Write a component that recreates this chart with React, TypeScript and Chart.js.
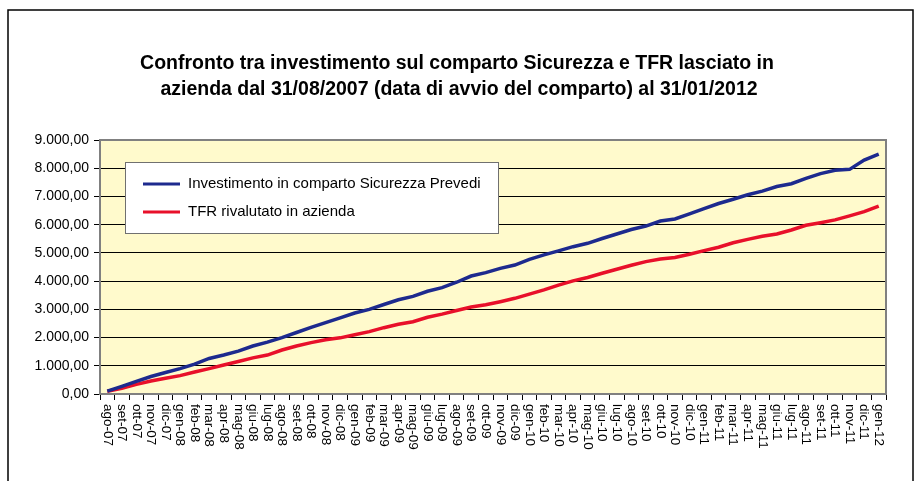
import React, { useEffect, useRef } from 'react';
import { Chart, registerables } from 'chart.js';

Chart.register(...registerables);

const categories = [
  'ago-07', 'set-07', 'ott-07', 'nov-07', 'dic-07',
  'gen-08', 'feb-08', 'mar-08', 'apr-08', 'mag-08', 'giu-08', 'lug-08', 'ago-08', 'set-08', 'ott-08', 'nov-08', 'dic-08',
  'gen-09', 'feb-09', 'mar-09', 'apr-09', 'mag-09', 'giu-09', 'lug-09', 'ago-09', 'set-09', 'ott-09', 'nov-09', 'dic-09',
  'gen-10', 'feb-10', 'mar-10', 'apr-10', 'mag-10', 'giu-10', 'lug-10', 'ago-10', 'set-10', 'ott-10', 'nov-10', 'dic-10',
  'gen-11', 'feb-11', 'mar-11', 'apr-11', 'mag-11', 'giu-11', 'lug-11', 'ago-11', 'set-11', 'ott-11', 'nov-11', 'dic-11',
  'gen-12',
];

const investimentoSicurezza = [
  100, 270, 450, 620, 760, 900, 1060, 1260, 1380, 1520,
  1700, 1840, 2000, 2180, 2360, 2530, 2700, 2870, 3000, 3170,
  3340, 3460, 3640, 3770, 3960, 4180, 4300, 4450, 4570, 4770,
  4930, 5070, 5220, 5340, 5510, 5670, 5830, 5950, 6130, 6200,
  6380, 6570, 6750, 6900, 7060, 7190, 7350, 7450, 7640, 7810,
  7930, 7960, 8290, 8500,
];

const tfrAzienda = [
  100, 200, 340, 460, 560, 650, 780, 900, 1030, 1150,
  1280, 1380, 1560, 1700, 1820, 1920, 1990, 2100, 2210, 2350,
  2470, 2560, 2720, 2830, 2960, 3080, 3160, 3270, 3390, 3540,
  3690, 3860, 4010, 4130, 4280, 4420, 4560, 4690, 4780, 4840,
  4950, 5080, 5200, 5360, 5480, 5590, 5670, 5810, 5980, 6070,
  6170, 6310, 6460, 6660,
];

const seriesLabels = ['Investimento in comparto Sicurezza Prevedi', 'TFR rivalutato in azienda'];
const seriesColors = ['#1D2A8E', '#E8102A'];

const titleLines = [
  'Confronto tra investimento sul comparto Sicurezza e TFR lasciato in',
  'azienda dal 31/08/2007 (data di avvio del comparto) al 31/01/2012',
];

const Y_MIN = 0;
const Y_MAX = 9000;
const Y_STEP = 1000;

const FONT = 'Arial, "Liberation Sans", sans-serif';

function formatIt(v: number): string {
  const s = Math.round(v).toString().replace(/\B(?=(\d{3})+(?!\d))/g, '.');
  return s + ',00';
}

const decorPlugin = {
  id: 'decor',
  beforeDraw(chart: any) {
    const { ctx, chartArea: a } = chart;
    ctx.save();
    ctx.fillStyle = '#ffffff';
    ctx.fillRect(0, 0, chart.width, chart.height);
    ctx.fillStyle = '#FFFACC';
    ctx.fillRect(a.left, a.top, a.right - a.left, a.bottom - a.top);
    ctx.restore();
  },
  beforeDatasetsDraw(chart: any) {
    const { ctx, chartArea: a } = chart;
    ctx.save();
    ctx.strokeStyle = '#808080';
    ctx.lineWidth = 2;
    ctx.strokeRect(a.left, a.top, a.right - a.left, a.bottom - a.top);
    ctx.restore();
  },
  afterDraw(chart: any) {
    const { ctx } = chart;
    ctx.save();
    // outer frame
    ctx.strokeStyle = '#000';
    ctx.lineWidth = 1.5;
    ctx.strokeRect(8, 10, 905, 490);

    // title
    ctx.fillStyle = '#000';
    ctx.font = 'bold 19.5px ' + FONT;
    ctx.textAlign = 'center';
    ctx.textBaseline = 'middle';
    ctx.fillText(titleLines[0], 457, 64);
    ctx.fillText(titleLines[1], 459, 90);

    // x labels rotated clockwise
    const xs = chart.scales.x;
    ctx.font = '13.5px ' + FONT;
    ctx.textAlign = 'left';
    ctx.textBaseline = 'middle';
    categories.forEach((lab, i) => {
      const x = xs.getPixelForValue(i);
      ctx.save();
      ctx.translate(x, 404);
      ctx.rotate(Math.PI / 2);
      ctx.fillText(lab, 0, 0);
      ctx.restore();
    });

    // legend
    ctx.fillStyle = '#ffffff';
    ctx.fillRect(125, 162, 373, 71);
    ctx.strokeStyle = '#707070';
    ctx.lineWidth = 1;
    ctx.strokeRect(125.5, 162.5, 373, 71);
    ctx.font = '15px ' + FONT;
    ctx.textAlign = 'left';
    ctx.textBaseline = 'middle';
    const ys = [184, 212];
    chart.data.datasets.forEach((ds: any, i: number) => {
      ctx.strokeStyle = ds.borderColor;
      ctx.lineWidth = 3;
      ctx.beginPath();
      ctx.moveTo(143, ys[i]);
      ctx.lineTo(180, ys[i]);
      ctx.stroke();
      ctx.fillStyle = '#000';
      ctx.fillText(ds.label, 188, ys[i]);
    });
    ctx.restore();
  },
};

export default function App() {
  const ref = useRef<HTMLCanvasElement | null>(null);

  useEffect(() => {
    if (!ref.current) return;
    const chart = new Chart(ref.current, {
      type: 'line',
      data: {
        labels: categories,
        datasets: [
          {
            label: seriesLabels[0],
            data: investimentoSicurezza,
            borderColor: seriesColors[0],
            backgroundColor: seriesColors[0],
            borderWidth: 3.5,
            pointRadius: 0,
            tension: 0,
          },
          {
            label: seriesLabels[1],
            data: tfrAzienda,
            borderColor: seriesColors[1],
            backgroundColor: seriesColors[1],
            borderWidth: 3.5,
            pointRadius: 0,
            tension: 0,
          },
        ],
      },
      options: {
        responsive: false,
        animation: false,
        devicePixelRatio: 1,
        layout: { padding: { top: 140, right: 31, left: 0, bottom: 0 } },
        plugins: {
          legend: { display: false },
          title: { display: false },
          tooltip: { enabled: false },
        },
        scales: {
          x: {
            type: 'category',
            offset: true,
            border: { display: false },
            grid: {
              offset: true,
              drawOnChartArea: false,
              drawTicks: true,
              tickLength: 6,
              color: '#000',
              tickColor: '#000',
            },
            ticks: { display: false },
            afterFit: (s: any) => {
              s.height = 87;
            },
          },
          y: {
            min: Y_MIN,
            max: Y_MAX,
            border: { display: false },
            grid: {
              color: (c: any) =>
                c.tick && (c.tick.value === Y_MIN || c.tick.value === Y_MAX) ? 'rgba(0,0,0,0)' : '#000',
              tickColor: '#000',
              tickLength: 6,
              lineWidth: 1,
            },
            ticks: {
              stepSize: Y_STEP,
              color: '#000',
              padding: 5,
              font: { size: 14, family: FONT },
              callback: (v: any) => formatIt(Number(v)),
            },
            afterFit: (s: any) => {
              s.width = 100;
            },
          },
        },
      },
      plugins: [decorPlugin],
    });
    return () => chart.destroy();
  }, []);

  return (
    <div style={{ position: 'absolute', left: 0, top: 0, width: 917, height: 481 }}>
      <canvas ref={ref} width={917} height={481} style={{ display: 'block', width: 917, height: 481 }} />
    </div>
  );
}
